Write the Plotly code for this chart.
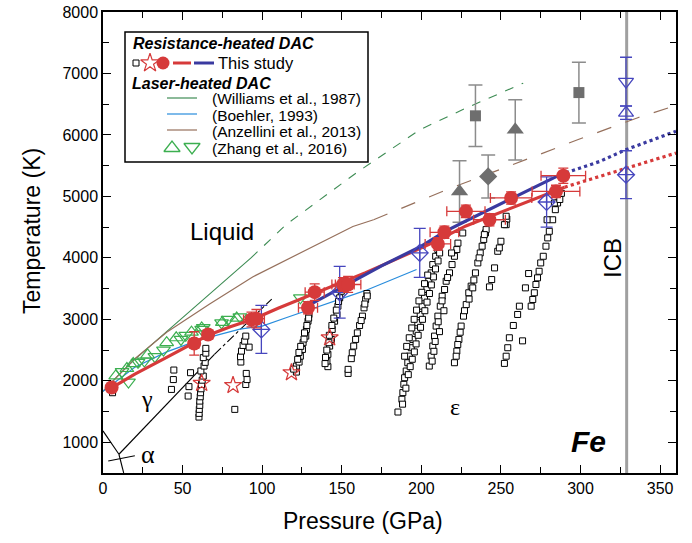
import plotly.graph_objects as go

# ---------------- data ----------------
# This study: fitted melting curves
fit_red_P = [3, 20, 40, 57, 66, 80, 95, 110, 125, 145, 165, 186, 207, 228, 249, 270, 290]
fit_red_T = [1850, 2110, 2380, 2610, 2740, 2880, 3010, 3180, 3340, 3545, 3760, 4000, 4245, 4520, 4735, 4945, 5150]
ext_red_P = [290, 312, 328.5, 345, 360]
ext_red_T = [5150, 5325, 5460, 5596, 5705]
fit_blue_P = [128, 150, 175, 200, 215, 228, 250, 270, 287]
fit_blue_T = [3210, 3520, 3870, 4190, 4430, 4600, 4880, 5140, 5350]
ext_blue_P = [287, 312, 328.5, 345, 360]
ext_blue_T = [5350, 5568, 5760, 5920, 6060]

# This study: melting points (red circles) with errors
melt_P = [5.4, 57.3, 66, 93.3, 96.4, 128.8, 133, 150.8, 154, 210.4, 214.5, 228, 242.8, 256.4, 284.6, 289.2]
melt_T = [1890, 2608, 2754, 2998, 3010, 3188, 3442, 3567, 3567, 4227, 4416, 4757, 4620, 4975, 5081, 5337]
melt_dP = [0, 3, 3, 5, 5, 6, 6, 7, 8, 8, 9, 12, 10, 13, 15, 14]
melt_dT = [0, 190, 0, 120, 150, 100, 135, 110, 130, 100, 100, 100, 100, 100, 100, 124]

# This study: stars
star_P = [62, 81.7, 118.4, 142.4]
star_T = [1960, 1926, 2133, 2700]

# This study: solid-state data (open squares)
sq_P = [6, 44.5, 44.2, 43, 55, 54, 53.5,
        60.3, 60.4, 60.5, 60.8, 60.8, 61.1, 61.3, 61.6, 61.9, 62.3, 63, 61.5, 63.5, 64.2, 63, 64.6, 64.6,
        82.8, 89.7, 90.5, 90, 86.6, 86.4, 87, 88, 91.8, 89, 89.7,
        121.5, 121.5, 123.2, 124, 125.3, 125.7, 127.4, 127.8, 128.8, 129.4,
        119.8, 122.3, 123.1, 124.2, 126.3, 126.6, 128.1, 129.2,
        141.3, 140.7, 141.3, 142.4, 143.5, 144, 145.5, 147, 147.6, 148.7, 149.7,
        139.5, 139.8, 140.6, 141.9, 142.2, 143.8, 145, 146.6, 148,
        154, 154, 156, 156.6, 157.5, 158.7, 161.2, 163, 164, 165, 165.8, 159.8, 162.2, 164.5, 166,
        185.3, 187.8, 188.4, 189, 189.5, 190.5, 191.5, 192.6, 193.7, 194.7, 196.8, 197.8, 199.3, 200.5,
        202, 203.5, 204.7, 206.2, 207.2, 209, 210.4,
        188.2, 190.3, 191.8, 193, 194.3, 195.6, 196.7, 198, 199.5, 200.7, 202.2, 203.6, 205.1, 206.3,
        207.6, 208.9, 210.5, 211.5,
        189.5, 190.8, 192.4, 194, 195.5, 197, 198.5, 200.3, 202, 204,
        205, 206.2, 207.2, 208.3, 209.3, 210.4, 211.9, 213.1, 214.6, 215.6, 217.7, 219.3, 220.8, 222.3,
        206.8, 208.7, 210.6, 213, 216.5, 219, 223, 207.9, 211.4, 214.2, 226,
        220.8, 222.3, 223.6, 225, 226.5, 228.2, 229.8, 231.3, 234, 235.5, 237, 238.2, 240.3,
        221.9, 222.9, 224.4, 227.1, 230, 232.3, 233, 236.3, 239.2, 240.7, 239.6,
        242.8, 244.2, 246, 248, 249, 250, 253.3, 253.7, 253.3, 252.2,
        252.2, 253.3, 254.3, 255.3, 257.8, 260.5, 261.6, 263.6, 265.4, 267.4,
        269, 270, 271, 272, 273, 274, 275, 276.6, 278.3, 279.4, 280.4, 282.5, 284.2, 285.6, 279, 283.6,
        287, 288]
sq_T = [1806, 2175, 2020, 1860, 2132, 1905, 1752,
        1410, 1470, 1535, 1600, 1670, 1740, 1806, 1870, 1940, 2010, 2077, 2160, 2240, 2300, 2377, 2450, 2528,
        1535, 1940, 2020, 2120, 2305, 2392, 2483, 2575, 2548, 2645, 2727,
        2142, 2240, 2305, 2400, 2510, 2620, 2727, 2836, 2970, 3079,
        2190, 2350, 2460, 2560, 2680, 2780, 2900, 3020,
        2230, 2320, 2430, 2565, 2673, 2836, 2970, 3079, 3214, 3350, 3457,
        2280, 2380, 2500, 2620, 2740, 2900, 3020, 3150, 3290,
        2120, 2186, 2360, 2457, 2565, 2673, 2900, 3052, 3187, 3323, 3420, 2780, 2980, 3250, 3380,
        1492, 1700, 1808, 1943, 2050, 2159, 2294, 2402, 2538, 2673, 2808, 2944, 3079, 3214,
        3350, 3485, 3620, 3756, 3891, 4026, 4135,
        1620, 1880, 2100, 2230, 2350, 2470, 2600, 2740, 2870, 3000, 3140, 3280, 3420, 3560,
        3690, 3820, 3950, 4080,
        2400, 2560, 2700, 2860, 3000, 3150, 3300, 3440, 3580, 3720,
        2240, 2402, 2565, 2727, 2890, 3052, 3214, 3376, 3485, 3620, 3756, 3891, 4026, 4135,
        2320, 2640, 2960, 3300, 3680, 4080, 4240, 2480, 2800, 3140, 4405,
        2294, 2483, 2673, 2890, 3052, 3240, 3432, 3540, 3756, 3918, 4080, 4190, 4405,
        2400, 2590, 2790, 3140, 3330, 3512, 3640, 4000, 4300, 4460, 4378,
        3528, 3647, 3837, 4107, 4162, 4270, 4540, 4632, 4677, 4540,
        2283, 2400, 2538, 2700, 2900, 3079, 3214, 2650, 3512, 3745,
        3214, 3323, 3432, 3567, 3675, 3782, 3918, 4026, 4190, 4325, 4432, 4620, 4784, 4893, 4620, 4893,
        4950, 5050]

# Laser-heated DAC literature
will_P = [0, 10, 20, 40, 61, 78, 93]
will_T = [1830, 2100, 2350, 2800, 3270, 3650, 4000]
will_ext_P = [93, 115, 159, 199, 228, 264]
will_ext_T = [4000, 4540, 5380, 6084, 6436, 6842]
boeh_P = [0, 10, 20, 40, 61, 86, 100, 115, 145, 165, 197]
boeh_T = [1830, 2030, 2220, 2470, 2670, 2840, 2890, 3025, 3290, 3470, 3810]
anz_P = [0, 20, 40, 67, 94, 124, 157, 170]
anz_T = [1830, 2360, 2790, 3250, 3690, 4080, 4510, 4620]
anz_ext_P = [170, 216, 274, 299, 336, 360]
anz_ext_T = [4620, 5110, 5680, 5930, 6280, 6480]
zh_up_P = [8, 15, 19, 28, 40, 46, 55.6, 62, 75, 84]
zh_up_T = [2080, 2200, 2280, 2420, 2620, 2700, 2792, 2860, 2950, 3020]
zh_dn_P = [12, 16, 22, 26, 32.6, 38, 49, 52, 62, 63, 74.5, 78.6, 86, 124]
zh_dn_T = [2150, 1980, 2300, 2320, 2392, 2500, 2673, 2740, 2836, 2864, 2944, 3000, 3040, 3350]

# Other points (blue open symbols, grey shock data)
bdia_P = [99.5, 148.7, 199, 278.7, 328.6]
bdia_T = [2836, 3440, 4081, 4909, 5353]
bdia_dT = [390, 420, 400, 410, 390]
btri_P = [328.6]
btri_T = [6360]
btri_dT = [108]
btrd_P = [328.6]
btrd_T = [6868]
btrd_dT = [396]
gsq_P = [234, 299]
gsq_T = [6311, 6689]
gsq_dT = [500, 495]
gtri_P = [224, 259]
gtri_T = [5081, 6083]
gtri_dT = [500, 490]
gdia_P = [242]
gdia_T = [5325]
gdia_dT = [350]

# Phase boundaries
ag_P = [0, 10]
ag_T = [1185, 805]
ae_P = [10, 13]
ae_T = [805, 500]
ge_P = [10, 70]
ge_T = [805, 2430]
ge_ext_P = [70, 106]
ge_ext_T = [2430, 3330]
alpha_tick_P = [3.3, 20]
alpha_tick_T = [696, 780]
ICB_P = 329

x_ticks = [0, 50, 100, 150, 200, 250, 300, 350]
y_ticks = [1000, 2000, 3000, 4000, 5000, 6000, 7000, 8000]

# ---------------- colours ----------------
RED = "rgb(214,58,58)"
BLUE = "rgb(58,58,160)"
GREEN = "rgb(62,140,84)"
LBLUE = "rgb(40,140,220)"
BROWN = "rgb(150,112,92)"
ZGREEN = "rgb(60,175,80)"
SYMBLUE = "rgb(70,70,190)"
GREY = "rgb(110,110,110)"
GREYBAR = "rgb(140,140,140)"

# plot-area geometry in pixels (for legend / titles placed in paper space)
PL, PR, PT, PB = 103, 676, 12, 473
def xp(px):
    return (px - PL) / (PR - PL)
def yp(py):
    return (PB - py) / (PB - PT)

fig = go.Figure()

def line(x, y, color, width=1.0, dash="solid"):
    fig.add_trace(go.Scatter(x=x, y=y, mode="lines", line=dict(color=color, width=width, dash=dash),
                             showlegend=False, hoverinfo="skip"))

# phase boundaries
line(ag_P, ag_T, "black", 1.1)
line(ae_P, ae_T, "black", 1.1)
line(ge_P, ge_T, "black", 1.1)
line(ge_ext_P, ge_ext_T, "black", 1.1, "dashdot")
line(alpha_tick_P, alpha_tick_T, "black", 1.1)

# literature curves
line(will_P, will_T, GREEN, 1.1)
line(will_ext_P, will_ext_T, GREEN, 1.1, "dash")
line(anz_P, anz_T, BROWN, 1.2)
line(anz_ext_P, anz_ext_T, BROWN, 1.2, "longdash")
line(boeh_P, boeh_T, LBLUE, 1.2)

# open squares
fig.add_trace(go.Scatter(x=sq_P, y=sq_T, mode="markers",
                         marker=dict(symbol="square", size=6, color="white", line=dict(color="black", width=1)),
                         showlegend=False))

# Zhang triangles
fig.add_trace(go.Scatter(x=zh_up_P, y=zh_up_T, mode="markers",
                         marker=dict(symbol="triangle-up-open", size=12, color=ZGREEN, line=dict(width=1.2)),
                         showlegend=False))
fig.add_trace(go.Scatter(x=zh_dn_P, y=zh_dn_T, mode="markers",
                         marker=dict(symbol="triangle-down-open", size=12, color=ZGREEN, line=dict(width=1.2)),
                         showlegend=False))

# grey shock data
def gpts(x, y, dy, sym, size):
    fig.add_trace(go.Scatter(x=x, y=y, mode="markers",
                             error_y=dict(type="data", array=dy, color=GREYBAR, thickness=1.5, width=7),
                             marker=dict(symbol=sym, size=size, color=GREY),
                             showlegend=False))
gpts(gsq_P, gsq_T, gsq_dT, "square", 11)
gpts(gtri_P, gtri_T, gtri_dT, "triangle-up", 15)
gpts(gdia_P, gdia_T, gdia_dT, "diamond", 14)

# fitted curves
line(fit_red_P, fit_red_T, RED, 3.2)
line(ext_red_P, ext_red_T, RED, 3.2, "dot")
line(fit_blue_P, fit_blue_T, BLUE, 3.2)
line(ext_blue_P, ext_blue_T, BLUE, 3.2, "dot")

# blue open symbols
def bpts(x, y, dy, sym, size):
    fig.add_trace(go.Scatter(x=x, y=y, mode="markers",
                             error_y=dict(type="data", array=dy, color=SYMBLUE, thickness=1.3, width=6),
                             marker=dict(symbol=sym, size=size, color=SYMBLUE, line=dict(width=1.3)),
                             showlegend=False))
bpts(bdia_P, bdia_T, bdia_dT, "diamond-cross-open", 13)
bpts(btri_P, btri_T, btri_dT, "triangle-up-open", 13)
bpts(btrd_P, btrd_T, btrd_dT, "triangle-down-open", 13)

# red melting points
fig.add_trace(go.Scatter(x=melt_P, y=melt_T, mode="markers",
                         error_x=dict(type="data", array=melt_dP, color=RED, thickness=1.3, width=5),
                         error_y=dict(type="data", array=melt_dT, color=RED, thickness=1.3, width=5),
                         marker=dict(symbol="circle", size=14, color=RED),
                         showlegend=False))
fig.add_trace(go.Scatter(x=star_P, y=star_T, mode="markers",
                         marker=dict(symbol="star-open", size=13, color=RED, line=dict(width=1.2)),
                         showlegend=False))

# ICB line
fig.add_shape(type="line", x0=ICB_P, x1=ICB_P, y0=500, y1=8000, xref="x", yref="y",
              line=dict(color="rgb(160,160,160)", width=3), layer="below")

# ---------------- labels ----------------
SANS = "Liberation Sans, Arial, sans-serif"
SERIF = "Liberation Serif, Times New Roman, serif"
def txt(x, y, s, size, family=SANS, angle=0, xref="x", yref="y", xanchor="center", color="black"):
    fig.add_annotation(x=x, y=y, text=s, showarrow=False, xref=xref, yref=yref, textangle=angle,
                       xanchor=xanchor, yanchor="middle", font=dict(size=size, family=family, color=color))

def ptxt(px, py, s, size, angle=0, xanchor="center"):
    txt(xp(px), yp(py), s, size, angle=angle, xref="paper", yref="paper", xanchor=xanchor)

txt(75, 4430, "Liquid", 24)
txt(27.4, 1700, "γ", 24, SERIF)
txt(28.4, 805, "α", 26, SERIF)
txt(221, 1575, "ε", 24, SERIF)
txt(305, 1020, "<b><i>Fe</i></b>", 30)
txt(320.5, 4000, "ICB", 24, angle=-90)

# axis titles
ptxt(363, 521, "Pressure (GPa)", 23)
ptxt(32, 231, "Temperature (K)", 23, angle=-90)

# ---------------- legend (drawn in pixel space) ----------------
fig.add_shape(type="rect", x0=xp(125), x1=xp(368), y0=yp(32), y1=yp(162), xref="paper", yref="paper",
              line=dict(color="black", width=1.5), fillcolor="white", layer="below")
ptxt(131, 43, "<b><i>Resistance-heated DAC</i></b>", 16, xanchor="left")
ptxt(130, 83, "<b><i>Laser-heated DAC</i></b>", 16, xanchor="left")
ptxt(216, 63, "This study", 16.5, xanchor="left")
ptxt(210, 99, "(Williams et al., 1987)", 15.5, xanchor="left")
ptxt(210, 115, "(Boehler, 1993)", 15.5, xanchor="left")
ptxt(210, 131, "(Anzellini et al., 2013)", 15.5, xanchor="left")
ptxt(210, 148, "(Zhang et al., 2016)", 15.5, xanchor="left")
for (x0, x1, y, c) in [(173, 191, 63, RED), (194, 214, 63, BLUE), (167, 197, 98, GREEN),
                       (167, 197, 114, LBLUE), (167, 197, 130, BROWN)]:
    fig.add_shape(type="line", x0=xp(x0), x1=xp(x1), y0=yp(y), y1=yp(y), xref="paper", yref="paper",
                  line=dict(color=c, width=3 if y == 63 else 1.2), layer="above")
leg_sym = [(136, 63, "square", 6, "white", "black", 1),
           (150, 63, "star-open", 14, RED, RED, 1.2),
           (163, 63, "circle", 13, RED, RED, 0),
           (172, 148, "triangle-up-open", 14, ZGREEN, ZGREEN, 1.3),
           (192, 147, "triangle-down-open", 14, ZGREEN, ZGREEN, 1.3)]
for (x, y, s, sz, fc, lc, lw) in leg_sym:
    fig.add_trace(go.Scatter(x=[x], y=[y], xaxis="x2", yaxis="y2", mode="markers",
                             marker=dict(symbol=s, size=sz, color=fc, line=dict(color=lc, width=lw)),
                             showlegend=False, hoverinfo="skip"))

# ---------------- axes / layout ----------------
axis_common = dict(showline=True, linecolor="black", linewidth=1.5, mirror="ticks", ticks="inside",
                   ticklen=8, tickwidth=1.3, tickcolor="black", showgrid=False, zeroline=False,
                   automargin=False,
                   tickfont=dict(size=16, family=SANS, color="black"))
fig.update_layout(
    width=692, height=543,
    margin=dict(l=PL, r=692 - PR, t=PT, b=543 - PB),
    plot_bgcolor="white", paper_bgcolor="white",
    font=dict(family=SANS, color="black"),
    xaxis=dict(range=[0, 360], tickvals=x_ticks, minor=dict(dtick=25, ticklen=6, ticks="inside", tickcolor="black", tickwidth=1.3),
               **axis_common),
    yaxis=dict(range=[500, 8000], tickvals=y_ticks, minor=dict(dtick=500, ticklen=6, ticks="inside", tickcolor="black", tickwidth=1.3),
               **axis_common),
    xaxis2=dict(overlaying="x", range=[PL, PR], visible=False, showgrid=False, zeroline=False),
    yaxis2=dict(overlaying="y", range=[PB, PT], visible=False, showgrid=False, zeroline=False),
    showlegend=False,
)

fig.write_html("out.html", config={"displayModeBar": False},
               post_script="document.body.style.margin='0px';document.body.style.overflow='hidden';")
